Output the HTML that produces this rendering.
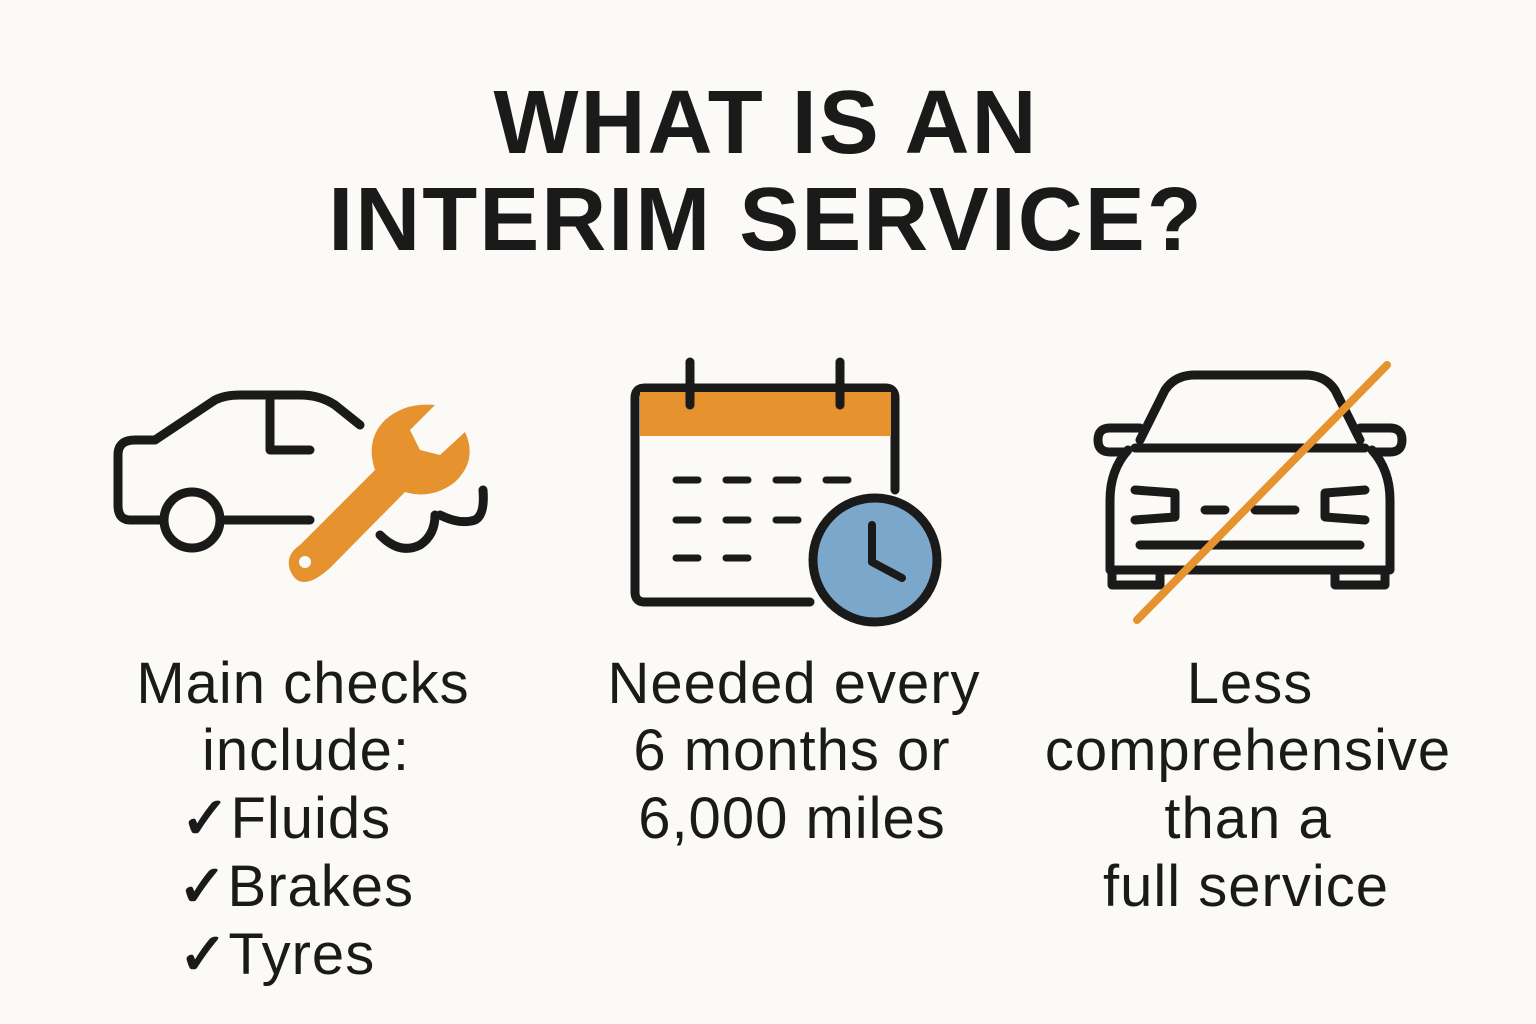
<!DOCTYPE html>
<html><head><meta charset="utf-8"><style>
html,body{margin:0;padding:0;background:#fbfaf6;}
svg{display:block}
text{font-family:"Liberation Sans",sans-serif;fill:#1a1a1a}
</style></head><body>
<svg width="1536" height="1024" viewBox="0 0 1536 1024">
<rect width="1536" height="1024" fill="#fbfaf6"/>
<text x="766" y="153" font-size="90" font-weight="bold" text-anchor="middle" letter-spacing="2">WHAT IS AN</text>
<text x="766" y="250" font-size="90" font-weight="bold" text-anchor="middle" letter-spacing="2">INTERIM SERVICE?</text>

<g fill="none" stroke="#1a1a1a" stroke-width="9" stroke-linecap="round" stroke-linejoin="round">
<path d="M160 520 H130 Q118 520 118 505 V455 Q118 440 135 440 H155 L215 400 Q225 395 240 395 H300 Q320 395 335 405 L360 425"/>
<path d="M270 400 V450 H310"/>
<path d="M225 520 H310"/>
<circle cx="192" cy="520" r="28"/>
<path d="M380 535 Q400 555 420 545 Q435 535 435 515"/>
<path d="M440 515 Q460 525 475 520 Q485 515 483 490"/>
</g>
<g fill="#e5922f">
<path d="M300 545 L375 470 Q365 440 385 420 Q405 402 435 405 L410 430 L420 450 L440 455 L465 432 Q478 460 455 482 Q432 500 405 492 L330 568 Q300 595 290 570 Q285 555 300 545Z"/>
</g>
<circle cx="305" cy="562" r="6" fill="#fbfaf6"/>

<g fill="none" stroke="#1a1a1a" stroke-width="9" stroke-linecap="round" stroke-linejoin="round">
<path d="M810 602 H645 Q635 602 635 592 V398 Q635 388 645 388 H885 Q895 388 895 398 V490"/>
</g>
<rect x="640" y="392" width="251" height="44" fill="#e5922f"/>
<g stroke="#1a1a1a" stroke-width="9" stroke-linecap="round">
<line x1="690" y1="362" x2="690" y2="405"/><line x1="840" y1="362" x2="840" y2="405"/>
<g stroke-width="7" stroke-dasharray="22 28">
<line x1="676" y1="480" x2="860" y2="480"/>
<line x1="676" y1="520" x2="810" y2="520"/>
<line x1="676" y1="558" x2="760" y2="558"/>
</g>
</g>
<circle cx="875" cy="560" r="62" fill="#7aa7ca" stroke="#1a1a1a" stroke-width="9"/>
<path d="M872 525 V562 L902 578" fill="none" stroke="#1a1a1a" stroke-width="8" stroke-linecap="round" stroke-linejoin="round"/>

<g fill="none" stroke="#1a1a1a" stroke-width="9" stroke-linecap="round" stroke-linejoin="round">
<path d="M1140 440 L1165 390 Q1175 375 1195 375 H1305 Q1325 375 1335 390 L1360 440"/>
<path d="M1135 448 H1365"/>
<path d="M1140 428 H1110 Q1098 428 1098 440 Q1098 452 1110 452 H1125"/>
<path d="M1360 428 H1390 Q1402 428 1402 440 Q1402 452 1390 452 H1375"/>
<path d="M1128 450 Q1110 470 1110 500 V570 H1390 V500 Q1390 470 1372 450"/>
<path d="M1112 570 V585 H1160 V570"/><path d="M1335 570 V585 H1385 V570"/>
<path d="M1135 490 L1175 493 V517 L1135 520"/>
<path d="M1365 490 L1325 493 V517 L1365 520"/>
<path d="M1205 510 H1225 M1255 510 H1295"/>
<path d="M1140 545 H1360"/>
</g>
<line x1="1137" y1="620" x2="1387" y2="365" stroke="#e5922f" stroke-width="8" stroke-linecap="round"/>

<g font-size="58" text-anchor="middle" letter-spacing="1">
<text x="303" y="703">Main checks</text>
<text x="306" y="770">include:</text>
<text x="286" y="838"><tspan font-weight="bold">✓</tspan>Fluids</text>
<text x="296" y="906"><tspan font-weight="bold">✓</tspan>Brakes</text>
<text x="277" y="974"><tspan font-weight="bold">✓</tspan>Tyres</text>
<text x="794" y="703">Needed every</text>
<text x="792" y="770">6 months or</text>
<text x="792" y="838">6,000 miles</text>
<text x="1250" y="703">Less</text>
<text x="1248" y="770">comprehensive</text>
<text x="1248" y="838">than a</text>
<text x="1246" y="906">full service</text>
</g>
</svg>
</body></html>
